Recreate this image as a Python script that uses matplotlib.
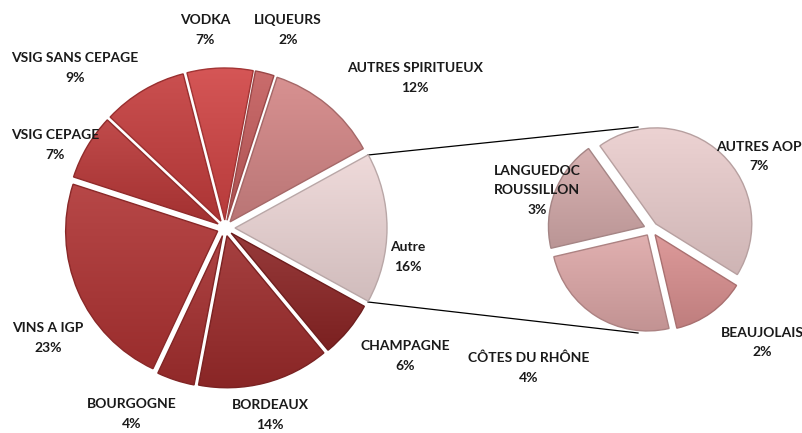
import matplotlib
matplotlib.use("Agg")
import matplotlib.pyplot as plt
import matplotlib.colors as mcolors
import numpy as np

# ---- data ----
main_labels = ["Autre", "CHAMPAGNE", "BORDEAUX", "BOURGOGNE", "VINS A IGP",
               "VSIG CEPAGE", "VSIG SANS CEPAGE", "VODKA", "LIQUEURS",
               "AUTRES SPIRITUEUX"]
main_values = [16, 6, 14, 4, 23, 7, 9, 7, 2, 12]
main_colors = ["#EDD6D6", "#8C2525", "#9C2B2B", "#A52F2F", "#AF3333",
               "#B93737", "#C43C3C", "#D04343", "#C45C5C", "#D38585"]

sub_labels = ["AUTRES AOP", "BEAUJOLAIS", "CÔTES DU RHÔNE", "LANGUEDOC\nROUSSILLON"]
sub_values = [7, 2, 4, 3]
sub_colors = ["#EACDCD", "#D98F8F", "#DDA7A7", "#D4AAAA"]

# ---- figure ----
W, H = 803, 433
fig = plt.figure(figsize=(W / 100, H / 100), dpi=100)
ax = fig.add_axes([0, 0, 1, 1])

def py(y):
    return H - y

def darker(c, f=0.78):
    r, g, b = mcolors.to_rgb(c)
    return (r * f, g * f, b * f)

def shade(wedges, colors):
    for w, c in zip(wedges, colors):
        base = np.array(mcolors.to_rgb(c))
        ext = w.get_path().get_extents()
        t = np.linspace(0, 1, 64)[:, None]          # 0 bottom -> 1 top
        top = base + (1 - base) * 0.10
        bot = base * 0.88
        grad = bot[None, :] * (1 - t) + top[None, :] * t
        img = ax.imshow(grad[:, None, :], extent=(ext.x0, ext.x1, ext.y0, ext.y1),
                        origin="lower", aspect="auto", interpolation="bilinear",
                        zorder=1)
        img.set_clip_path(w)
        w.set_facecolor("none")
        w.set_edgecolor(darker(c))
        w.set_linewidth(1.0)
        w.set_zorder(2)

main_center = (225, py(228))
main_r = 152
main_explode = [10] + [8] * (len(main_values) - 1)
wedges, _ = ax.pie(main_values, colors=main_colors, startangle=28.8, counterclock=False,
                   explode=main_explode, center=main_center, radius=main_r, frame=True)
shade(wedges, main_colors)

sub_center = (651, py(229))
sub_r = 96
sub_explode = [7] * len(sub_values)
wedges2, _ = ax.pie(sub_values, colors=sub_colors, startangle=125.6, counterclock=False,
                    explode=sub_explode, center=sub_center, radius=sub_r, frame=True)
shade(wedges2, sub_colors)

ax.set_xlim(0, W)
ax.set_ylim(0, H)
ax.set_aspect("equal")
ax.axis("off")

# connector lines
ax.plot([368, 638], [py(155), py(127)], color="black", lw=0.9, zorder=0.5)
ax.plot([368, 638], [py(302), py(333)], color="black", lw=0.9, zorder=0.5)

# labels
font = dict(family=["Lato", "DejaVu Sans"], fontweight="bold", fontsize=10,
            ha="center", va="center", color="#1a1a1a", zorder=5)
main_pos = [(408, 247), (405, 346), (270, 405), (132, 404), (48, 328),
            (55, 135), (75, 58), (205, 20), (288, 20), (415, 68)]
for lab, v, (x, y) in zip(main_labels, main_values, main_pos):
    ax.text(x, py(y), lab, **font)
    ax.text(x, py(y + 20), f"{v}%", **font)

sub_pos = [(759, 147), (762, 333), (529, 358), (537, 171)]
for lab, v, (x, y) in zip(sub_labels, sub_values, sub_pos):
    n = lab.count("\n")
    for i, line in enumerate(lab.split("\n")):
        ax.text(x, py(y + 19.5 * i), line, **font)
    ax.text(x, py(y + 19.5 * (n + 1)), f"{v}%", **font)

fig.savefig("out.png", dpi=100)
